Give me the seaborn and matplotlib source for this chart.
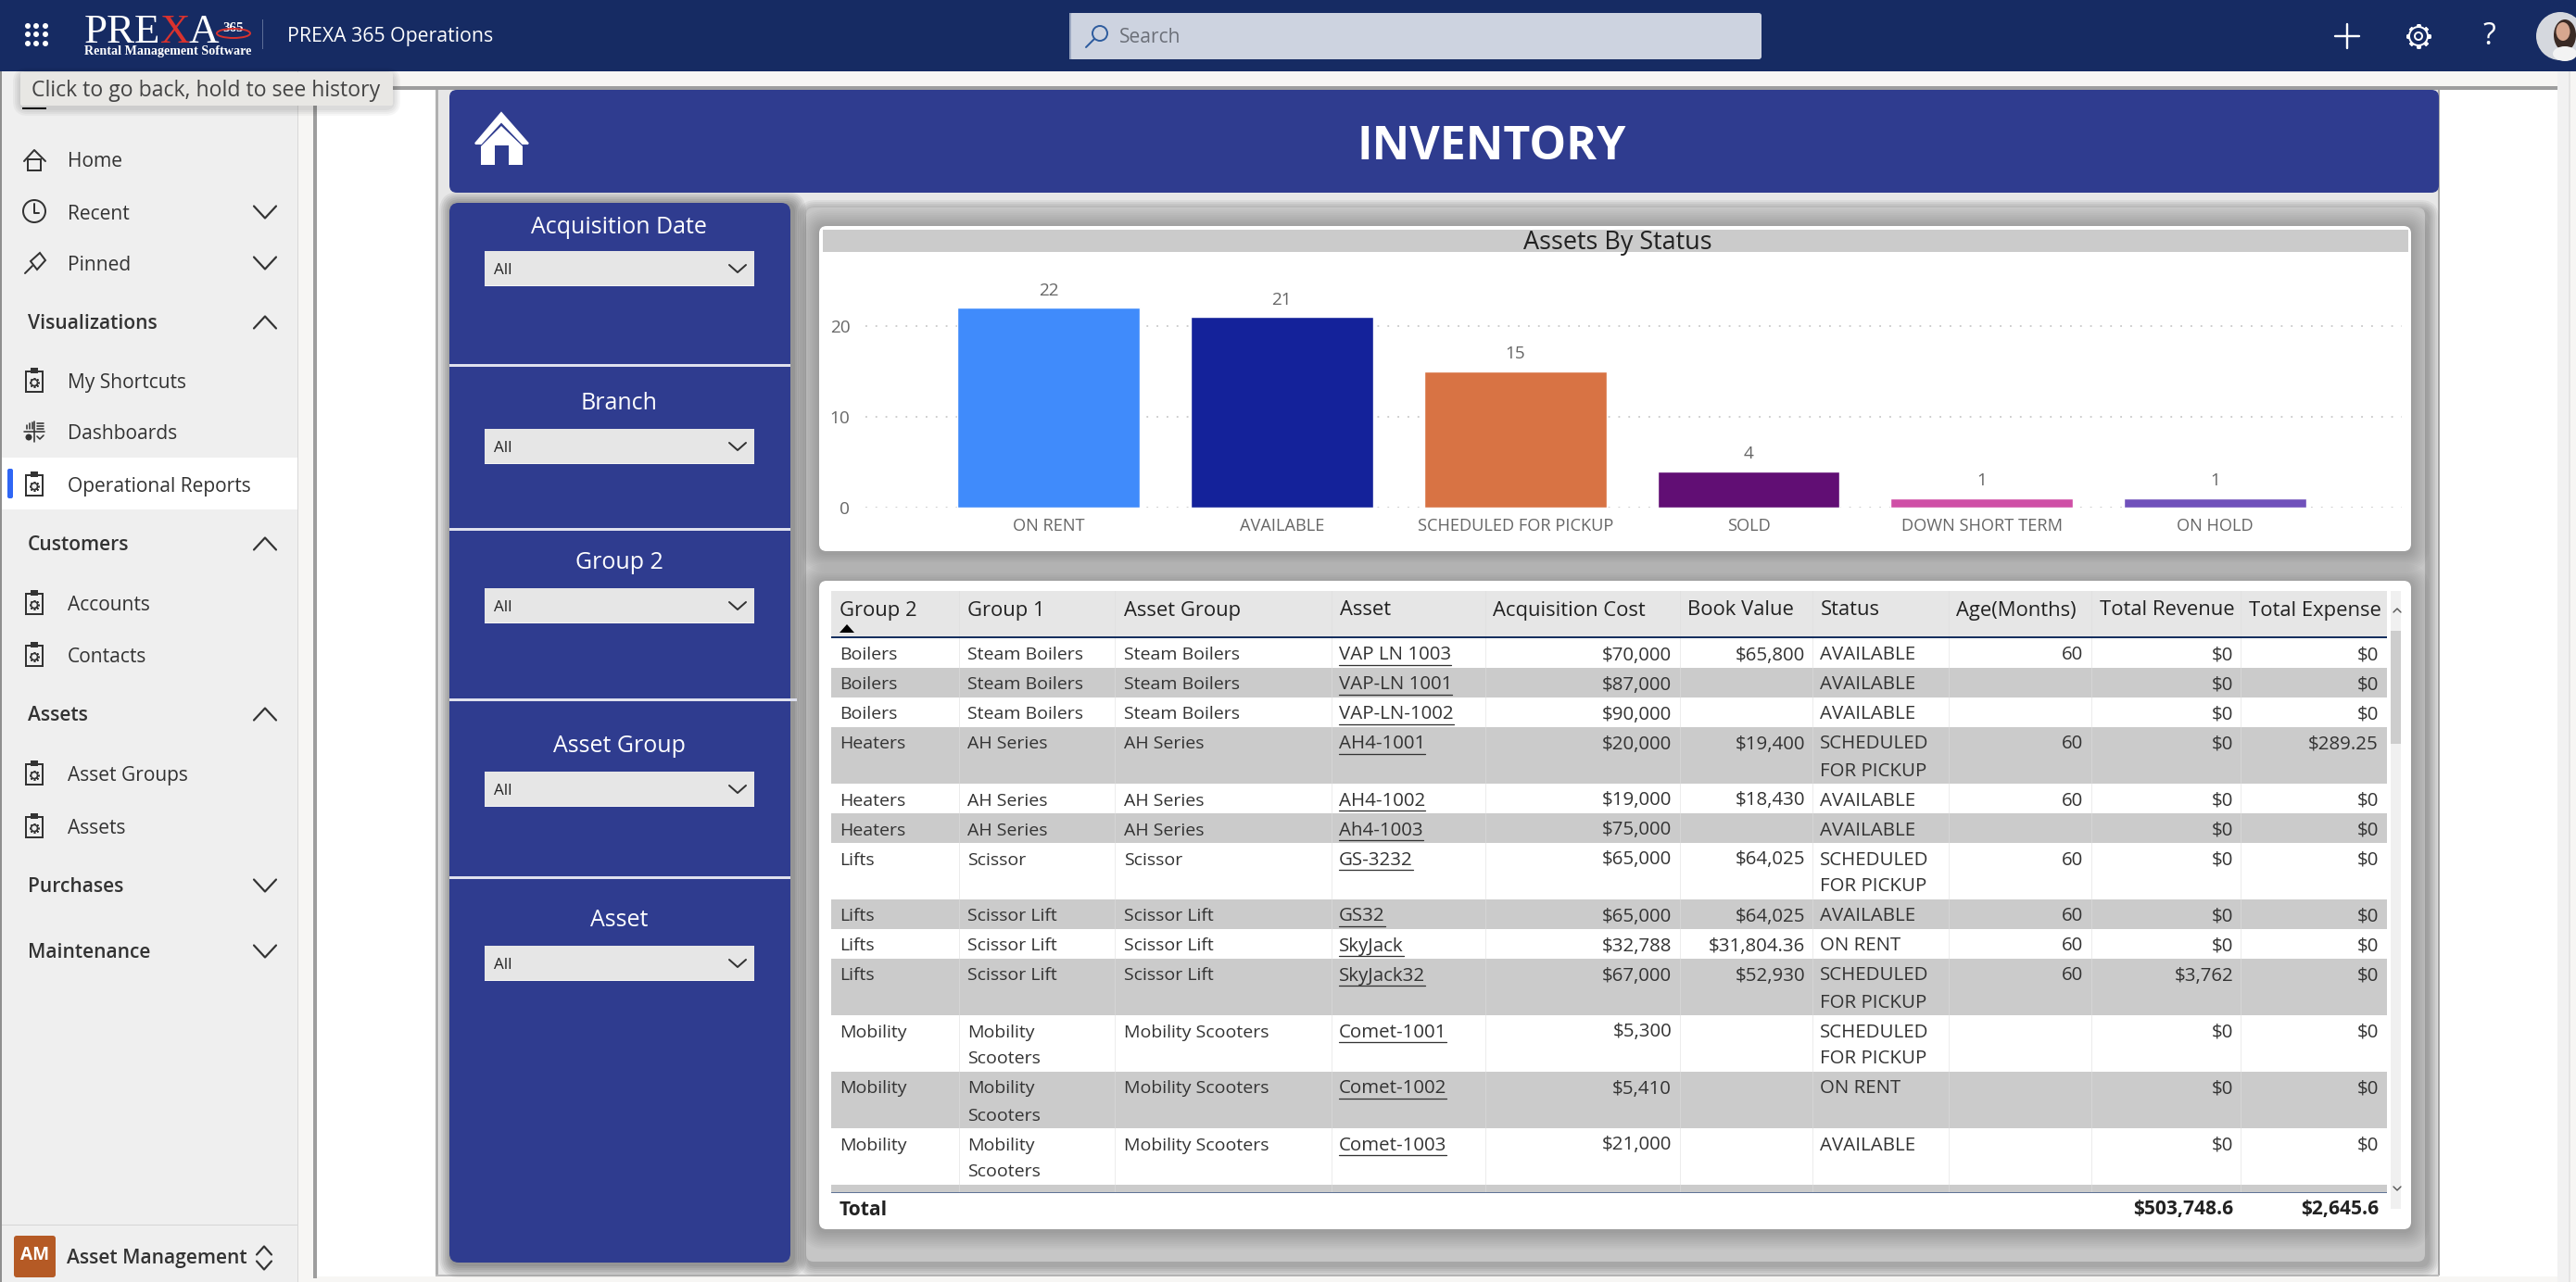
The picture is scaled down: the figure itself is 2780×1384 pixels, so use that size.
"""PREXA 365 inventory report page, redrawn with seaborn and matplotlib."""
import matplotlib
matplotlib.use("Agg")
import matplotlib.pyplot as plt
from matplotlib.patches import Circle, Ellipse, FancyBboxPatch, Polygon, Rectangle
import pandas as pd
import seaborn as sns

W, H = 2780, 1384

# bar chart
STATUS = ["ON RENT", "AVAILABLE", "SCHEDULED FOR PICKUP", "SOLD", "DOWN SHORT TERM", "ON HOLD"]
COUNTS = [22, 21, 15, 4, 1, 1]
BAR_COLORS = ["#408bfb", "#14229a", "#d87344", "#610e74", "#cf4fa6", "#7051bb"]

# table columns
HEADERS = ["Group 2", "Group 1", "Asset Group", "Asset", "Acquisition Cost", "Book Value",
           "Status", "Age(Months)", "Total Revenue", "Total Expense"]
GROUP2 = ["Boilers", "Boilers", "Boilers", "Heaters", "Heaters", "Heaters", "Lifts", "Lifts",
          "Lifts", "Lifts", "Mobility", "Mobility", "Mobility"]
MS = "Mobility\nScooters"
GROUP1 = ["Steam Boilers", "Steam Boilers", "Steam Boilers", "AH Series", "AH Series", "AH Series",
          "Scissor", "Scissor Lift", "Scissor Lift", "Scissor Lift", MS, MS, MS]
ASSET_GROUP = ["Steam Boilers", "Steam Boilers", "Steam Boilers", "AH Series", "AH Series", "AH Series",
               "Scissor", "Scissor Lift", "Scissor Lift", "Scissor Lift",
               "Mobility Scooters", "Mobility Scooters", "Mobility Scooters"]
ASSET = ["VAP LN 1003", "VAP-LN 1001", "VAP-LN-1002", "AH4-1001", "AH4-1002", "Ah4-1003", "GS-3232",
         "GS32", "SkyJack", "SkyJack32", "Comet-1001", "Comet-1002", "Comet-1003"]
COST = ["$70,000", "$87,000", "$90,000", "$20,000", "$19,000", "$75,000", "$65,000", "$65,000",
        "$32,788", "$67,000", "$5,300", "$5,410", "$21,000"]
BOOK = ["$65,800", "", "", "$19,400", "$18,430", "", "$64,025", "$64,025", "$31,804.36", "$52,930",
        "", "", ""]
SP = "SCHEDULED\nFOR PICKUP"
ROW_STATUS = ["AVAILABLE", "AVAILABLE", "AVAILABLE", SP, "AVAILABLE", "AVAILABLE", SP, "AVAILABLE",
              "ON RENT", SP, SP, "ON RENT", "AVAILABLE"]
AGE = ["60", "", "", "60", "60", "", "60", "60", "60", "60", "", "", ""]
REVENUE = ["$0", "$0", "$0", "$0", "$0", "$0", "$0", "$0", "$0", "$3,762", "$0", "$0", "$0"]
EXPENSE = ["$0", "$0", "$0", "$289.25", "$0", "$0", "$0", "$0", "$0", "$0", "$0", "$0", "$0"]
TOTAL_REVENUE = "$503,748.6"
TOTAL_EXPENSE = "$2,645.6"

SLICERS = ["Acquisition Date", "Branch", "Group 2", "Asset Group", "Asset"]

NAVY = "#162b63"
BLUE = "#2f3c8f"
TEXT = "#333333"
FONT = "Open Sans"
px = 72 / 100  # pixels to points at dpi 100

sns.set_theme(style="white")
plt.rcParams["font.family"] = [FONT, "DejaVu Sans"]

fig = plt.figure(figsize=(W / 100, H / 100), dpi=100, facecolor="#f7f6f4")
bg = fig.add_axes([0, 0, 1, 1])
bg.set_xlim(0, W)
bg.set_ylim(H, 0)
bg.axis("off")


def rect(x0, y0, x1, y1, color, z=1, **kw):
    bg.add_patch(Rectangle((x0, y0), x1 - x0, y1 - y0, fc=color, ec="none", zorder=z, **kw))


def rrect(x0, y0, x1, y1, color, r=8, z=1, alpha=None):
    bg.add_patch(FancyBboxPatch((x0 + r, y0 + r), x1 - x0 - 2 * r, y1 - y0 - 2 * r,
                                boxstyle=f"round,pad={r}", fc=color, ec="none", zorder=z, alpha=alpha))


def shadow(x0, y0, x1, y1, z=2, spread=10, dx=0, dy=3, a=0.035):
    for i in range(spread, 0, -2):
        rrect(x0 - i + dx, y0 - i + dy, x1 + i + dx, y1 + i + dy, "#000000", r=8 + i, z=z, alpha=a)


def label(x, y, s, size=21, color=TEXT, ha="left", weight="normal", z=6, va="center", **kw):
    return bg.text(x, y + 2.5, s, fontsize=size * px, color=color, ha=ha, va=va, weight=weight, zorder=z, **kw)


def line(xs, ys, color=TEXT, lw=2, z=6):
    bg.plot(xs, ys, color=color, lw=lw * px, zorder=z, solid_capstyle="round", solid_joinstyle="round")


def chevron(x, y, up=False, w=12, h=13, color=TEXT, lw=2.2, z=6):
    d = -h if up else h
    line([x - w, x, x + w], [y - d / 2, y + d / 2, y - d / 2], color, lw, z)


def report_icon(x, y):
    bg.add_patch(Rectangle((x - 9, y - 10), 18, 22, fc="none", ec=TEXT, lw=2 * px, zorder=6))
    rect(x - 4, y - 14, x + 4, y - 8, TEXT, z=6)
    bg.plot([x], [y + 2], marker=(8, 2, 0), ms=11 * px, mec=TEXT, mew=1.6 * px, zorder=6)
    bg.add_patch(Circle((x, y + 2), 3.5, fc="#efefef", ec=TEXT, lw=1.6 * px, zorder=7))


# page background ------------------------------------------------------------
rect(340, 93, 2760, 1378, "white", z=0)
rect(316, 93, 2763, 97, "#9e9e9e")
rect(338, 93, 342, 1380, "#9e9e9e")
rect(470, 97, 2632, 1377, "#e7e7e7")
rect(470, 97, 473, 1377, "#b0b0b0")
rect(2630.5, 97, 2632.5, 1377, "#a8a8a8")
rect(470, 1375.5, 2632, 1377.5, "#bdbdbd")
rect(2760, 77, 2772, 1384, "#f1f1f1")
rect(2772, 77, 2774, 1384, "#e4e4e4")

# top bar
rect(0, 0, W, 77, NAVY, z=3)
for dx in (30, 39, 49):
    for dy in (28, 37, 47):
        bg.add_patch(Circle((dx, dy), 3, fc="white", ec="none", zorder=6))
label(91, 43, "PRE", size=45, color="white", family="Liberation Serif", va="baseline")
label(173, 43, "X", size=45, color="#d9322e", family="Liberation Serif", va="baseline")
label(203, 43, "A", size=45, color="white", family="Liberation Serif", va="baseline")
label(240, 31, "365", size=15, color="white", weight="bold", family="Liberation Serif", va="baseline")
bg.add_patch(Ellipse((252, 36), 36, 10, fc="none", ec="#d9322e", lw=1.4, zorder=6))
label(91, 53.5, "Rental Management Software", size=14.1, color="white", weight="bold", family="Liberation Serif")
rect(283, 21, 284, 53, "#5c6d96", z=5)
label(310, 37, "PREXA 365 Operations", size=21.3, color="white")

rrect(1154, 14, 1901, 64, "#cdd3e0", r=3, z=5)
rect(1154, 14, 1156, 64, "#9aa6c0", z=6)
bg.add_patch(Circle((1187, 36), 8, fc="none", ec="#2e5c9e", lw=1.4, zorder=6))
line([1181, 1172], [42, 51], "#2e5c9e", 2)
label(1208, 38, "Search", size=21, color="#6b6f78")

line([2533, 2533], [26, 52], "white", 2.4)
line([2520, 2546], [39, 39], "white", 2.4)
bg.plot([2610], [39], marker=(8, 2, 0), ms=26 * px, mec="white", mew=4 * px, zorder=6)
bg.add_patch(Circle((2610, 39), 10, fc=NAVY, ec="white", lw=2 * px, zorder=7))
bg.add_patch(Circle((2610, 39), 4, fc=NAVY, ec="white", lw=2 * px, zorder=8))
label(2686, 37, "?", size=32, color="white", ha="center")
bg.add_patch(Circle((2763, 39), 26, fc="#d5d8de", ec="none", zorder=6))
bg.add_patch(Ellipse((2768, 38), 24, 34, fc="#3a2a24", ec="none", zorder=7))
bg.add_patch(Ellipse((2766, 34), 15, 20, fc="#d7a78f", ec="none", zorder=8))
bg.add_patch(Ellipse((2768, 58), 26, 16, fc="#f3f3f3", ec="none", zorder=8))

# left navigation ------------------------------------------------------------
rect(2, 77, 321, H, "#efefef")
rect(321, 77, 322, H, "#d8d8d8")
rect(0, 0, 2, H, "#8f8f8f", z=2)
rect(2, 494, 321, 550, "white", z=2)
rrect(8, 506, 14, 538, "#2f66f5", r=2, z=3)
NAV_ITEMS = [("Home", 172), ("Recent", 229), ("Pinned", 284), ("My Shortcuts", 411), ("Dashboards", 466),
             ("Operational Reports", 523), ("Accounts", 651), ("Contacts", 707), ("Asset Groups", 835), ("Assets", 892)]
for name, y in NAV_ITEMS:
    label(73, y, name)
NAV_HEADS = [("Visualizations", 348, True), ("Customers", 587, True), ("Assets", 771, True),
             ("Purchases", 956, False), ("Maintenance", 1027, False)]
for name, y, is_open in NAV_HEADS:
    label(30, y - 1, name, weight="semibold")
    chevron(286, y, up=is_open)
chevron(286, 229)
chevron(286, 284)
# home / clock / pin icons
line([26, 37, 49], [174, 162, 174])
bg.add_patch(Rectangle((30, 172), 14, 12, fc="none", ec=TEXT, lw=2 * px, zorder=6))
bg.add_patch(Circle((37, 228), 12, fc="none", ec=TEXT, lw=2 * px, zorder=6))
line([37, 37, 42], [220, 230, 230])
line([27, 35], [295, 287])
bg.add_patch(Polygon([(33, 282), (43, 273), (49, 281), (40, 291)], fc="none", ec=TEXT, lw=2 * px, zorder=6))
for y in (411, 523, 651, 707, 835, 892):
    report_icon(37, y)
# dashboards glyph
line([26, 48], [466, 466], lw=1.6)
line([37, 37], [455, 477], lw=1.6)
for x, top in ((29, 459), (32, 457), (35, 456)):
    line([x, x], [top, 463], lw=1.6)
for y in (457, 460, 463):
    line([40, 47], [y, y], lw=1.6)
bg.add_patch(Circle((31, 472), 3.5, fc=TEXT, ec="none", zorder=6))
line([40, 43, 47], [471, 474, 470], lw=1.6)

rect(24, 116, 50, 118, "#111111", z=2)
shadow(22, 78, 424, 114, z=7, spread=8)
rrect(22, 78, 424, 114, "#e8e7e4", r=2, z=8)
label(34, 95.5, "Click to go back, hold to see history", size=23, color="#444444", z=9)

rect(2, 1322, 321, 1323, "#d5d5d5", z=2)
rrect(15, 1334, 60, 1379, "#b55a25", r=3, z=5)
label(37.5, 1353, "AM", size=19, color="white", ha="center", weight="bold")
label(72, 1356, "Asset Management", size=21, weight="semibold")
chevron(285, 1350, up=True, w=8, h=9)
chevron(285, 1366, w=8, h=9)

# report banner and slicers ---------------------------------------------------
rrect(485, 97, 2632, 208, BLUE, r=8, z=3)
bg.add_patch(Polygon([(541, 122), (570, 155), (564, 155), (541, 131), (519, 155), (513, 155)],
                     fc="white", ec="white", lw=1.5, zorder=5))
bg.add_patch(Polygon([(541, 136), (564, 158), (564, 178), (549, 178), (549, 157), (534, 157), (534, 178),
                      (519, 178), (519, 158)], fc="white", ec="none", zorder=5))
label(1610, 156.5, "INVENTORY", size=50, color="white", ha="center", weight="bold")

shadow(485, 219, 853, 1363, z=2, spread=14, dx=3, dy=2, a=0.06)
rrect(485, 219, 853, 1363, BLUE, r=10, z=3)
for y0, x1 in ((394, 853), (571, 853), (755, 860), (947, 853)):
    rect(485, y0 - 1.5, x1, y0 + 1.5, "#dfe1ee", z=4)
for name, title_y, box_y in zip(SLICERS, (242.5, 432.5, 604.5, 802.5, 990.5), (271, 463, 635, 833, 1021)):
    label(668, title_y, name, size=25, color="white", ha="center", weight="medium")
    rect(523, box_y, 814, box_y + 38, "#e6e6e6", z=5)
    rect(523, box_y + 36.5, 814, box_y + 38, "#f4f4f4", z=5)
    label(533, box_y + 19, "All", size=17, color="#222222")
    chevron(796, box_y + 19, w=9, h=8, color="#333333", lw=2)

# chart and table cards -------------------------------------------------------
shadow(870, 224, 2617, 1362, z=1.5, spread=12, dx=3, dy=4, a=0.05)
rrect(870, 224, 2617, 1362, "#c6c6c6", r=8, z=2)
for i in range(20, 0, -2):
    rrect(884 - i, 244 - i + 2, 2602 + i, 595 + i + 2, "#000000", r=8 + i, z=2.5, alpha=0.02)
    rrect(884 - i, 627 - i + 2, 2602 + i, 1327 + i + 2, "#000000", r=8 + i, z=2.5, alpha=0.02)
rrect(884, 244, 2602, 595, "white", r=8, z=4)
rect(888, 248, 2599, 272, "#cbcbcb", z=5)
label(1746, 260, "Assets By Status", size=27, color="#222222", ha="center")

rrect(884, 627, 2602, 1327, "white", r=8, z=4)

# bar chart through seaborn, axis placed over the card
y_zero, y_top, x_left, x_right = 548, 290, 934, 2592
chart = fig.add_axes([x_left / W, 1 - y_zero / H, (x_right - x_left) / W, (y_zero - y_top) / H])
chart.patch.set_alpha(0)
chart.set_zorder(5)
status_df = pd.DataFrame({"status": STATUS, "count": COUNTS})
sns.barplot(data=status_df, x="status", y="count", hue="status", palette=BAR_COLORS, dodge=False,
            legend=False, width=0.782, saturation=1, ax=chart)
chart.set_xlim(-0.785, 5.80)
chart.set_ylim(0, 26.33)
chart.set_yticks([0, 10, 20])
chart.set_xlabel("")
chart.set_ylabel("")
chart.yaxis.grid(True, color="#c9c9c9", linestyle=(0, (1, 5)), linewidth=1.3)
chart.set_axisbelow(True)
chart.tick_params(axis="both", length=0, labelsize=19 * px, labelcolor="#666666")
chart.tick_params(axis="x", pad=8, labelsize=18.3 * px)
chart.tick_params(axis="y", pad=12)
sns.despine(ax=chart, left=True, bottom=True)
for bars in chart.containers:
    chart.bar_label(bars, padding=7, fontsize=19 * px, color="#666666")

# table -----------------------------------------------------------------------
X_SPLITS = [1035, 1203, 1437, 1603, 1813, 1956, 2103, 2257, 2418]
T_LEFT, T_RIGHT = 897, 2576
rect(T_LEFT, 638, T_RIGHT, 688, "#e6e6e6", z=5)
HEAD_X = [906, 1044, 1213, 1446, 1611, 1821, 1965, 2111, 2266, 2427]
for x, name in zip(HEAD_X, HEADERS):
    label(x, 656.5, name, size=22, color="#222222")
bg.add_patch(Polygon([(906, 683), (922, 683), (914, 674)], fc="black", ec="none", zorder=6))

columns = [(906, "left", GROUP2, 19.5), (1044, "left", GROUP1, 19.5), (1213, "left", ASSET_GROUP, 19.5),
           (1804, "right", COST, 20.5), (1948, "right", BOOK, 20.5), (1964, "left", ROW_STATUS, 20.5),
           (2248, "right", AGE, 20.5), (2410, "right", REVENUE, 20.5), (2567, "right", EXPENSE, 20.5)]
ROW_ONE, ROW_TWO = 32, 61
renderer = fig.canvas.get_renderer()
y = 689
for i in range(len(GROUP2)):
    two_lines = "\n" in GROUP1[i] or "\n" in ROW_STATUS[i] or GROUP2[i] == "Mobility"
    row_h = ROW_TWO if two_lines else ROW_ONE
    if i % 2 == 1:
        rect(T_LEFT, y, T_RIGHT, y + row_h, "#cbcbcb", z=5)
    for x, ha, values, size in columns:
        for k, part in enumerate(values[i].split("\n")):
            label(x, y + 16 + k * 29, part, size=size, ha=ha)
    # asset names are links, so they get an underline
    t = label(1445, y + 16, ASSET[i], size=20.5)
    box = t.get_window_extent(renderer)
    line([box.x0, box.x1], [y + 29, y + 29], TEXT, 1.3)
    y += row_h
rect(T_LEFT, y, T_RIGHT, 1287, "#cbcbcb", z=5)
for x in X_SPLITS:
    rect(x, 638, x + 1, 1287, "#dedede", z=5.5, alpha=0.55)
rect(T_LEFT, 687, T_RIGHT, 689, "#17305f", z=6)
rect(T_LEFT, 1286.5, T_RIGHT, 1288, "#5f7396", z=6)

label(906, 1303.5, "Total", size=21, color="#222222", weight="bold")
label(2410, 1303.5, TOTAL_REVENUE, size=21, color="#222222", weight="bold", ha="right")
label(2567, 1303.5, TOTAL_EXPENSE, size=21, color="#222222", weight="bold", ha="right")

# scrollbar
rect(2580, 638, 2591, 1305, "#f0f0f0", z=5)
rect(2580, 681, 2591, 803, "#cdcdcd", z=6)
chevron(2587, 659, up=True, w=4, h=4, color="#555555", lw=1.4)
chevron(2587, 1283, w=4, h=4, color="#555555", lw=1.4)

fig.savefig("out.png", dpi=100, facecolor=fig.get_facecolor())
